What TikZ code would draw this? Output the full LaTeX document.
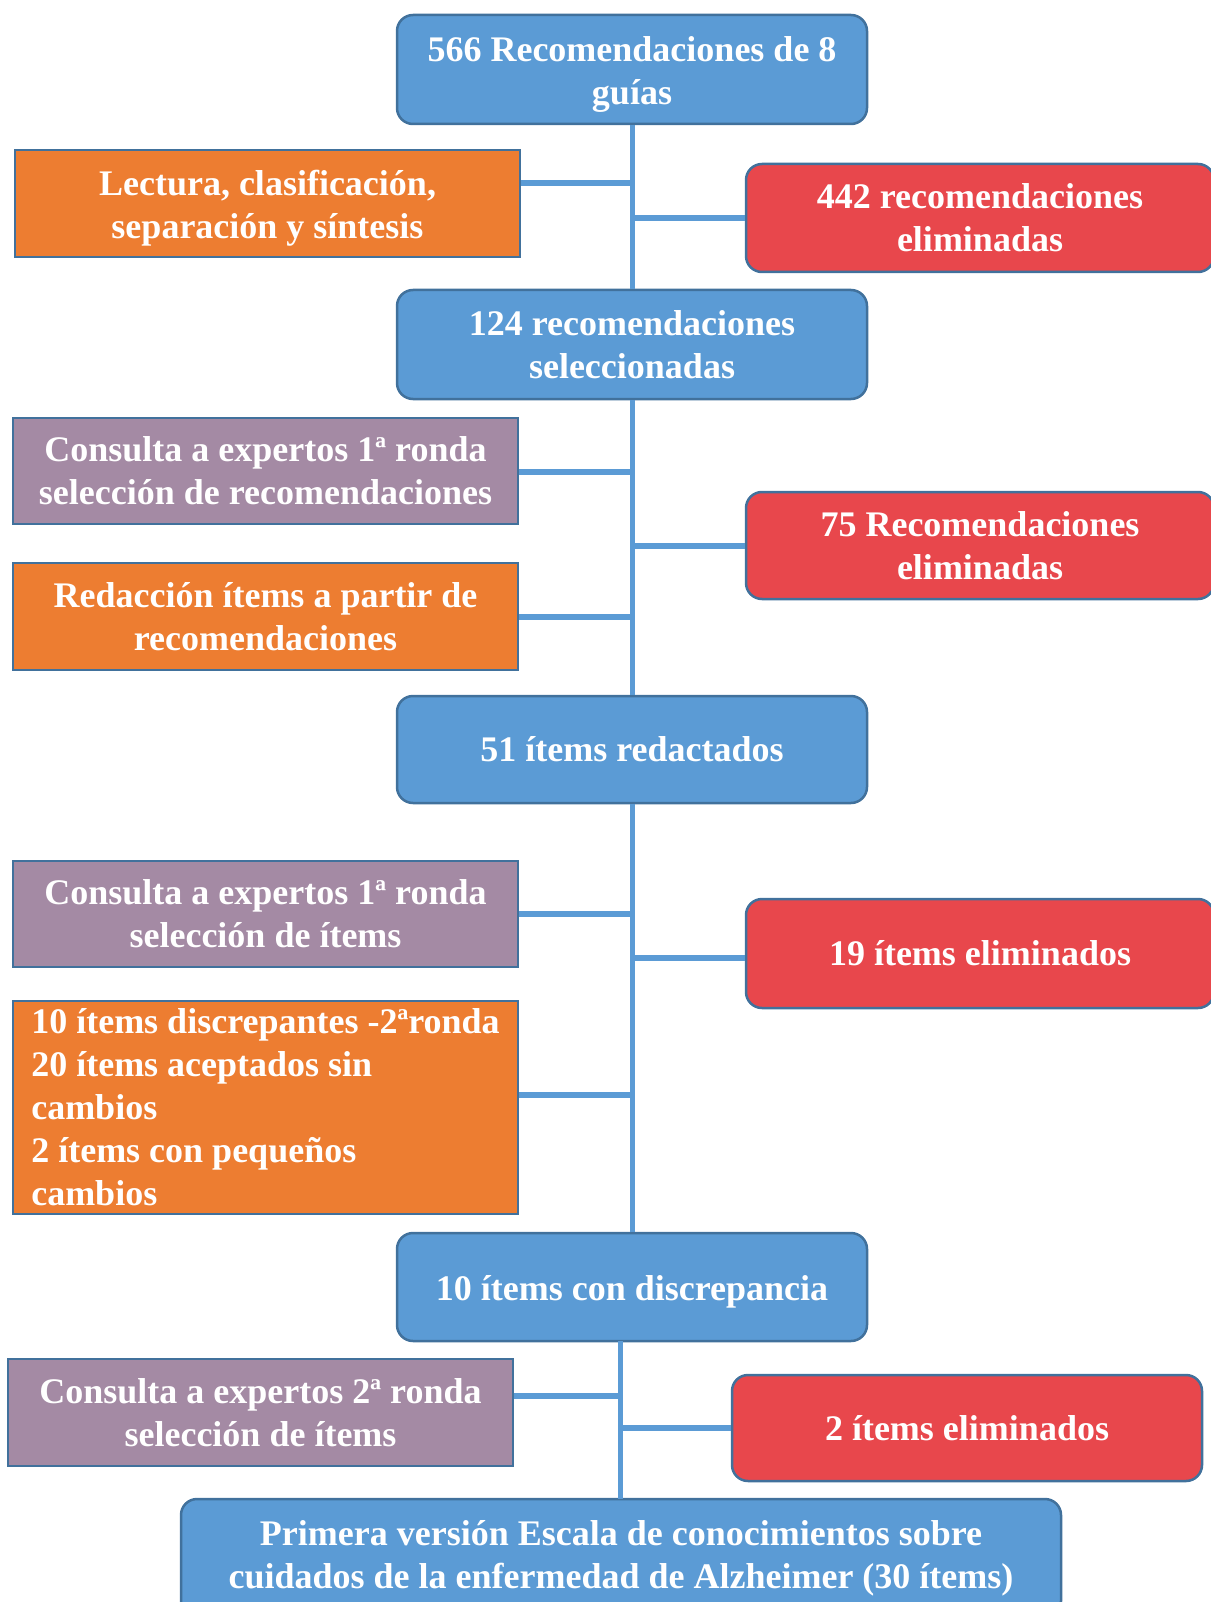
\documentclass[tikz,border=0pt]{standalone}
\usepackage{fontspec}
\setmainfont{Liberation Serif}
\definecolor{cblue}{HTML}{5B9BD5}
\definecolor{bdr}{HTML}{41719C}
\definecolor{corange}{HTML}{ED7D31}
\definecolor{cred}{HTML}{E8474C}
\definecolor{cpurple}{HTML}{A48AA4}
\newcommand\lowstrut{\rule{0pt}{35pt}}
\tikzset{
 box/.style={draw=bdr, line width=2.5pt, text=white, font=\bfseries\fontsize{36}{43}\selectfont, align=center, inner sep=0pt},
 bluebox/.style={box, fill=cblue, rounded corners=16pt},
 redbox/.style={box, fill=cred, rounded corners=16pt},
 orbox/.style={box, fill=corange},
 pubox/.style={box, fill=cpurple},
 link/.style={draw=cblue, line width=6pt},
 trunk/.style={draw=cblue, line width=5pt},
}
\begin{document}
\begin{tikzpicture}[x=1pt,y=-1pt]
\useasboundingbox (0,0) rectangle (1210,1602);
% main column
\node[bluebox, minimum width=470pt, minimum height=109pt] (n1) at (632,69.5) {\lowstrut 566 Recomendaciones de 8\\guías};
\node[bluebox, minimum width=470pt, minimum height=109pt] (n2) at (632,344.5) {124 recomendaciones\\seleccionadas};
\node[bluebox, minimum width=470pt, minimum height=107pt] (n3) at (632,749.5) {51 ítems redactados};
\node[bluebox, minimum width=470pt, minimum height=108pt] (n4) at (632,1287) {\lowstrut 10 ítems con discrepancia};
\node[bluebox, minimum width=880pt, minimum height=118pt] (n5) at (621,1558) {Primera versión Escala de conocimientos sobre\\cuidados de la enfermedad de Alzheimer (30 ítems)};
% left boxes
\node[orbox, minimum width=505pt, minimum height=107pt] (lect) at (267.5,203.5) {\lowstrut Lectura, clasificación,\\separación y síntesis};
\node[pubox, minimum width=505pt, minimum height=106pt] (cons1) at (265.5,471) {Consulta a expertos 1ª ronda\\selección de recomendaciones};
\node[orbox, minimum width=505pt, minimum height=107pt] (redac) at (265.5,616.5) {Redacción ítems a partir de\\recomendaciones};
\node[pubox, minimum width=505pt, minimum height=106pt] (cons2) at (265.5,914) {Consulta a expertos 1ª ronda\\selección de ítems};
\node[orbox, minimum width=505pt, minimum height=213pt, align=left] (list) at (265.5,1107.5) {10 ítems discrepantes -2ªronda\\20 ítems aceptados sin\\cambios\\2 ítems con pequeños\\cambios};
\node[pubox, minimum width=505pt, minimum height=107pt] (cons3) at (260.5,1412.5) {Consulta a expertos 2ª ronda\\selección de ítems};
% right boxes
\node[redbox, minimum width=468pt, minimum height=108pt] (r1) at (980,218) {442 recomendaciones\\eliminadas};
\node[redbox, minimum width=468pt, minimum height=107pt] (r2) at (980,545.5) {75 Recomendaciones\\eliminadas};
\node[redbox, minimum width=468pt, minimum height=109pt] (r3) at (980,953.5) {19 ítems eliminados};
\node[redbox, minimum width=470pt, minimum height=106pt] (r4) at (967,1428) {2 ítems eliminados};
% trunk
\draw[trunk] (n1.south) -- (n2.north);
\draw[trunk] (n2.south) -- (n3.north);
\draw[trunk] (n3.south) -- (n4.north);
\coordinate (t4) at (620,1341);
\coordinate (t5) at (620,1499);
\draw[trunk] (t4) -- (t5);
% junctions on trunk
\coordinate (j1) at (632,183);
\coordinate (j2) at (632,218);
\coordinate (j3) at (632,472);
\coordinate (j4) at (632,546);
\coordinate (j5) at (632,617);
\coordinate (j6) at (632,914);
\coordinate (j7) at (632,958);
\coordinate (j8) at (632,1095);
\coordinate (j9) at (620,1396);
\coordinate (j10) at (620,1428);
\draw[link] (lect.east |- j1) -- (j1);
\draw[link] (j2) -- (j2 -| r1.west);
\draw[link] (cons1.east |- j3) -- (j3);
\draw[link] (j4) -- (j4 -| r2.west);
\draw[link] (redac.east |- j5) -- (j5);
\draw[link] (cons2.east |- j6) -- (j6);
\draw[link] (j7) -- (j7 -| r3.west);
\draw[link] (list.east |- j8) -- (j8);
\draw[link] (cons3.east |- j9) -- (j9);
\draw[link] (j10) -- (j10 -| r4.west);
\end{tikzpicture}
\end{document}
